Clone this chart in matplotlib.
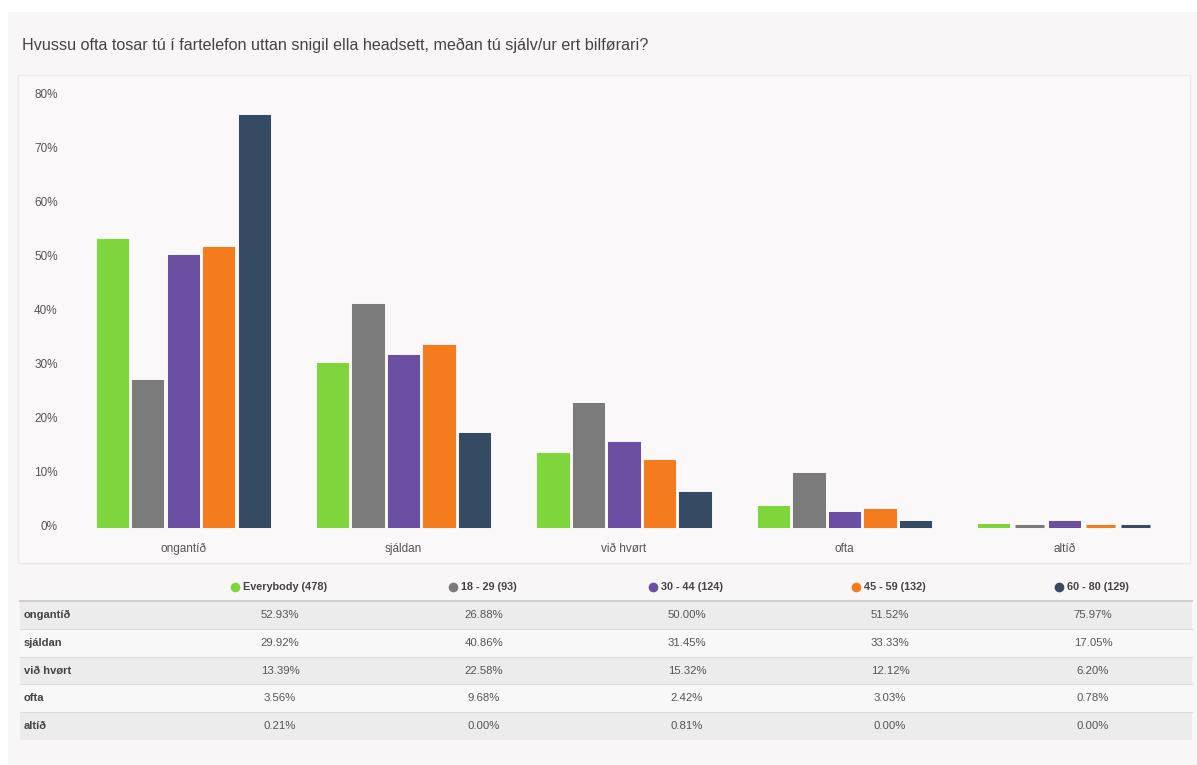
import matplotlib
matplotlib.use("Agg")
import matplotlib.pyplot as plt
from matplotlib.patches import Rectangle
import numpy as np

categories = ["ongantíð", "sjáldan", "við hvørt", "ofta", "altíð"]
series_names = ["Everybody (478)", "18 - 29 (93)", "30 - 44 (124)", "45 - 59 (132)", "60 - 80 (129)"]
everybody = [52.93, 29.92, 13.39, 3.56, 0.21]
age_18_29 = [26.88, 40.86, 22.58, 9.68, 0.00]
age_30_44 = [50.00, 31.45, 15.32, 2.42, 0.81]
age_45_59 = [51.52, 33.33, 12.12, 3.03, 0.00]
age_60_80 = [75.97, 17.05, 6.20, 0.78, 0.00]
yticks = [0, 10, 20, 30, 40, 50, 60, 70, 80]
title = "Hvussu ofta tosar tú í fartelefon uttan snigil ella headsett, meðan tú sjálv/ur ert bilførari?"

series = [everybody, age_18_29, age_30_44, age_45_59, age_60_80]
colors = ["#7ed63c", "#7b7b7b", "#6a4fa2", "#f57c1c", "#354a63"]

W, H = 1197, 765
fig = plt.figure(figsize=(W / 100, H / 100), dpi=100)
fig.patch.set_facecolor("#f8f6f6")

def px(x0, y0, w, h):
    return (x0 / W, 1 - (y0 + h) / H, w / W, h / H)

def add_rect(x0, y0, w, h, face, edge="none", lw=0.0, z=0):
    b = px(x0, y0, w, h)
    fig.patches.append(Rectangle((b[0], b[1]), b[2], b[3], transform=fig.transFigure,
                                 facecolor=face, edgecolor=edge, linewidth=lw, zorder=z))

# white strips at top/left
add_rect(0, 0, W, 12, "white", z=-2)
add_rect(0, 0, 8, H, "white", z=-2)
# chart box
add_rect(18, 75, 1172, 488, "#faf8f8", edge="#ebe9e9", lw=1.0, z=-1)

fig.text(22 / W, 1 - 45 / H, title, fontsize=11.6, color="#444444", va="center", ha="left",
         family="Liberation Sans")

ax = fig.add_axes(px(73, 94, 1102, 432))
ax.set_zorder(5)
ax.set_facecolor("none")
x = np.arange(len(categories))
step = 0.161
width = 0.133
for i, (vals, c) in enumerate(zip(series, colors)):
    bars = ax.bar(x + (i - 2) * step, vals, width=width, color=c, edgecolor=c,
                  linewidth=2.2, zorder=3)
    for b in bars:
        b.set_clip_on(False)

ax.set_xlim(-0.5, len(categories) - 0.5)
ax.set_ylim(0, 80)
ax.set_yticks(yticks)
ax.set_yticklabels([f"{v}%" for v in yticks])
ax.set_xticks(x)
ax.set_xticklabels(categories)
for s in ax.spines.values():
    s.set_visible(False)
ax.tick_params(axis="both", length=0, labelsize=8.5, labelcolor="#555555")
ax.tick_params(axis="y", pad=11)
ax.tick_params(axis="x", pad=12)
for lbl in ax.get_xticklabels() + ax.get_yticklabels():
    lbl.set_family("Liberation Sans")

# table
col_x = [280, 484, 687, 890, 1093]
row_bounds = [601, 629, 657, 684, 712, 740]
tl, tr = 20, 1192
for r in range(len(categories)):
    y0, y1 = row_bounds[r], row_bounds[r + 1]
    face = "#ececec" if r % 2 == 0 else "#f9f8f8"
    add_rect(tl, y0, tr - tl, y1 - y0, face, z=1)
    if r > 0:
        fig.add_artist(plt.Line2D([tl / W, tr / W], [1 - y0 / H] * 2, color="#dcdcdc",
                                  linewidth=0.8, zorder=2))
fig.add_artist(plt.Line2D([tl / W, tr / W], [1 - 601 / H] * 2, color="#cfcfcf",
                          linewidth=1.5, zorder=2))

# header legend
header_y = 1 - 587 / H
renderer = fig.canvas.get_renderer()
for name, c, cx in zip(series_names, colors, col_x):
    t = fig.text(cx / W + 5 / W, header_y, name, fontsize=7.8, color="#444444",
                 ha="center", va="center", family="Liberation Sans", fontweight="bold")
    bb = t.get_window_extent(renderer=renderer)
    fig.add_artist(plt.Line2D([(bb.x0 - 8) / W], [header_y], marker="o", markersize=7,
                              color=c, markeredgewidth=0, linestyle="none", zorder=3))

for r, cat in enumerate(categories):
    yc = 1 - (row_bounds[r] + row_bounds[r + 1]) / 2 / H
    fig.text(24 / W, yc, cat, fontsize=8, color="#444444", ha="left", va="center",
             family="Liberation Sans", fontweight="bold")
    for vals, cx in zip(series, col_x):
        fig.text(cx / W, yc, f"{vals[r]:.2f}%", fontsize=8.2, color="#555555", ha="center",
                 va="center", family="Liberation Sans")

fig.savefig("out.png", dpi=100, facecolor=fig.get_facecolor())
